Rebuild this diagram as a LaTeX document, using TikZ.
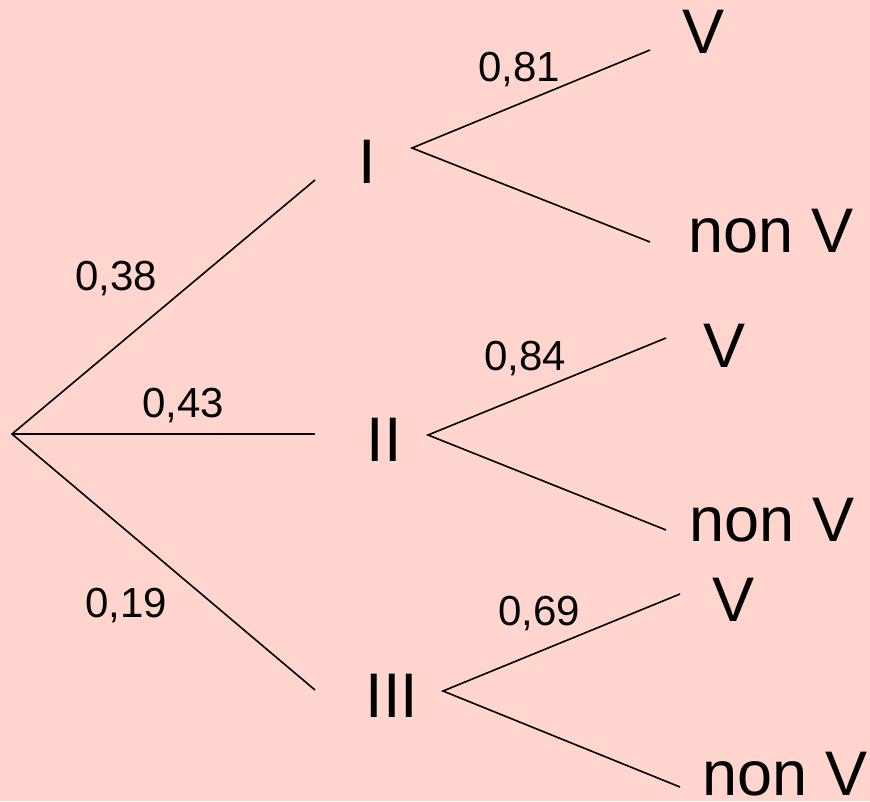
\documentclass[tikz,border=0pt]{standalone}
\usepackage{fontspec}
\setmainfont{Liberation Sans}
\definecolor{fond}{RGB}{255,213,206}

\begin{document}
\begin{tikzpicture}[x=1pt,y=-1pt,
  branche/.style={line width=1.6pt},
  etat/.style={inner sep=0pt,anchor=base,font=\fontsize{63}{63}\selectfont},
  proba/.style={inner sep=0pt,anchor=base,font=\fontsize{42}{42}\selectfont}]
\fill[fond] (0,0) rectangle (870,801);
\useasboundingbox (0,0) rectangle (870,801);
% premier niveau
\coordinate (racine) at (12,434);
\coordinate (finI) at (315,180);
\coordinate (finII) at (315,434);
\coordinate (finIII) at (315,690);
\node[etat] (I) at (367,183) {I};
\node[etat] (II) at (384,461) {II};
\node[etat] (III) at (392,717) {III};
\draw[branche] (finI) -- (racine) -- (finIII);
\draw[branche] (racine) -- (finII);
\node[proba] (p38) at (116,290) {0,38};
\node[proba] (p43) at (183,417) {0,43};
\node[proba] (p19) at (126,617) {0,19};
% second niveau
\coordinate (dI) at (412,148);
\coordinate (aI) at (650,50);
\coordinate (bI) at (650,242);
\coordinate (dII) at (428,435);
\coordinate (aII) at (666,338);
\coordinate (bII) at (666,530);
\coordinate (dIII) at (443,691);
\coordinate (aIII) at (680,594);
\coordinate (bIII) at (680,787);
\draw[branche] (aI) -- (dI) -- (bI);
\draw[branche] (aII) -- (dII) -- (bII);
\draw[branche] (aIII) -- (dIII) -- (bIII);
\node[proba] (p81) at (519,81) {0,81};
\node[proba] (p84) at (525,370) {0,84};
\node[proba] (p69) at (539,625) {0,69};
\node[etat] (VI) at (704,53) {V};
\node[etat] (nVI) at (771,252) {non V};
\node[etat] (VII) at (725,367) {V};
\node[etat] (nVII) at (772,541) {non V};
\node[etat] (VIII) at (734,621) {V};
\node[etat] (nVIII) at (785,795) {non V};
\end{tikzpicture}
\end{document}
